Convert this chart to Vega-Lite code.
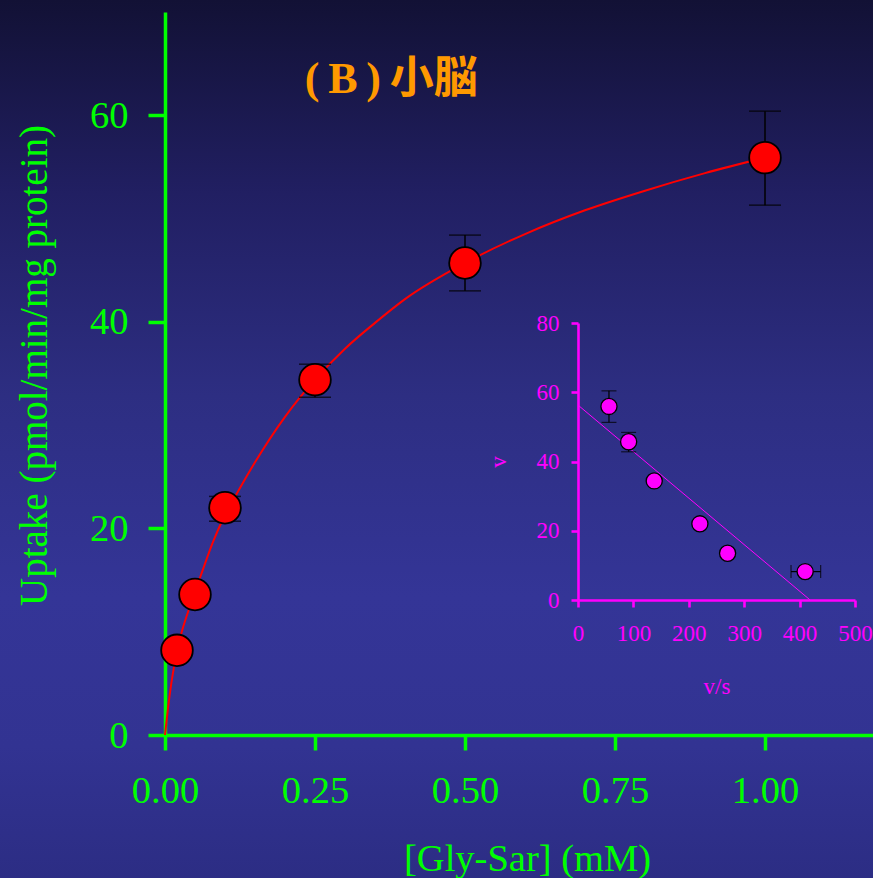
{
  "$schema": "https://vega.github.io/schema/vega-lite/v6.json",
  "width": 873,
  "height": 878,
  "padding": 0,
  "autosize": {"type": "none"},
  "background": "#2a2a7a",
  "config": {
    "view": {
      "stroke": null,
      "fill": {
        "gradient": "linear",
        "x1": 0, "y1": 0, "x2": 0, "y2": 1,
        "stops": [
          {"offset": 0, "color": "#121135"},
          {"offset": 0.22, "color": "#211f62"},
          {"offset": 0.45, "color": "#2d2e82"},
          {"offset": 0.68, "color": "#343597"},
          {"offset": 0.85, "color": "#323392"},
          {"offset": 1, "color": "#2c2d84"}
        ]
      }
    }
  },
  "datasets": {
    "curve": [
      {"s": 0, "v": 0}, {"s": 0.005, "v": 2.6}, {"s": 0.01, "v": 4.8}, {"s": 0.015, "v": 6.6},
      {"s": 0.02, "v": 8.2}, {"s": 0.03, "v": 10.4}, {"s": 0.04, "v": 12.2}, {"s": 0.05, "v": 13.9},
      {"s": 0.06, "v": 15.5}, {"s": 0.08, "v": 18.7}, {"s": 0.1, "v": 21.3}, {"s": 0.12, "v": 23.4},
      {"s": 0.15, "v": 26.4}, {"s": 0.2, "v": 30.8}, {"s": 0.25, "v": 34.4}, {"s": 0.3, "v": 37.4},
      {"s": 0.35, "v": 39.9}, {"s": 0.4, "v": 42.2}, {"s": 0.5, "v": 45.7}, {"s": 0.6, "v": 48.5},
      {"s": 0.7, "v": 50.8}, {"s": 0.8, "v": 52.7}, {"s": 0.9, "v": 54.4}, {"s": 1.0, "v": 55.9}
    ],
    "points": [
      {"s": 0.02, "v": 8.2}, {"s": 0.05, "v": 13.6}, {"s": 0.1, "v": 22.0},
      {"s": 0.25, "v": 34.4}, {"s": 0.5, "v": 45.7}, {"s": 1.0, "v": 55.9}
    ],
    "errors": [
      {"s": 0.1, "lo": 20.7, "hi": 23.1}, {"s": 0.25, "lo": 32.7, "hi": 35.9},
      {"s": 0.5, "lo": 43.0, "hi": 48.4}, {"s": 1.0, "lo": 51.3, "hi": 60.4}
    ],
    "scatchard": [
      {"vs": 55.9, "v": 55.9}, {"vs": 91.4, "v": 45.7}, {"vs": 137.6, "v": 34.4},
      {"vs": 220, "v": 22.0}, {"vs": 270, "v": 13.5}, {"vs": 410, "v": 8.2}
    ],
    "fit": [{"vs": 0, "v": 56.3}, {"vs": 419, "v": 0}],
    "verr": [{"vs": 55.9, "lo": 51.3, "hi": 60.4}, {"vs": 91.4, "lo": 42.8, "hi": 48.4}],
    "herr": [{"v": 8.2, "lo": 384.5, "hi": 438}]
  },
  "layer": [
    {
      "layer": [
        {
          "data": {"name": "curve"},
          "mark": {"type": "line", "color": "#ff0000", "strokeWidth": 2, "interpolate": "monotone"},
          "encoding": {
            "x": {"field": "s", "type": "quantitative",
              "scale": {"domain": [0, 1.18], "range": [165, 873], "nice": false, "zero": false},
              "axis": {
                "title": "[Gly-Sar] (mM)", "orient": "bottom", "offset": -143,
                "values": [0, 0.25, 0.5, 0.75, 1], "format": ".2f", "grid": false,
                "domainColor": "#00ff00", "domainWidth": 3.5,
                "tickColor": "#00ff00", "tickWidth": 3.5, "tickSize": 15,
                "labelColor": "#00ff00", "labelFont": "Liberation Serif", "labelFontSize": 38.5,
                "labelPadding": 22, "labelFlush": false, "labelOverlap": false,
                "titleColor": "#00ff00", "titleFont": "Liberation Serif", "titleFontSize": 38.5,
                "titleFontWeight": "normal", "titlePadding": 31, "titleX": 527
              }
            },
            "y": {"field": "v", "type": "quantitative",
              "scale": {"domain": [0, 70], "range": [735, 12], "nice": false, "zero": false},
              "axis": {
                "title": "Uptake (pmol/min/mg protein)", "orient": "left", "offset": -165,
                "values": [0, 20, 40, 60], "grid": false,
                "domainColor": "#00ff00", "domainWidth": 3.5,
                "tickColor": "#00ff00", "tickWidth": 3.5, "tickSize": 17,
                "labelColor": "#00ff00", "labelFont": "Liberation Serif", "labelFontSize": 38.5,
                "labelPadding": 20, "labelFlush": false, "labelOverlap": false,
                "titleColor": "#00ff00", "titleFont": "Liberation Serif", "titleFontSize": 39,
                "titleFontWeight": "normal", "titlePadding": 35, "titleY": 365
              }
            }
          }
        },
        {
          "data": {"name": "errors"},
          "mark": {"type": "rule", "color": "#000000", "strokeWidth": 1.5},
          "encoding": {
            "x": {"field": "s", "type": "quantitative", "scale": {"domain": [0, 1.18], "range": [165, 873], "nice": false, "zero": false}},
            "y": {"field": "lo", "type": "quantitative", "scale": {"domain": [0, 70], "range": [735, 12], "nice": false, "zero": false}},
            "y2": {"field": "hi"}
          }
        },
        {
          "data": {"name": "errors"},
          "mark": {"type": "tick", "orient": "horizontal", "color": "#000000", "size": 32, "thickness": 1.5},
          "encoding": {
            "x": {"field": "s", "type": "quantitative", "scale": {"domain": [0, 1.18], "range": [165, 873], "nice": false, "zero": false}},
            "y": {"field": "lo", "type": "quantitative", "scale": {"domain": [0, 70], "range": [735, 12], "nice": false, "zero": false}}
          }
        },
        {
          "data": {"name": "errors"},
          "mark": {"type": "tick", "orient": "horizontal", "color": "#000000", "size": 32, "thickness": 1.5},
          "encoding": {
            "x": {"field": "s", "type": "quantitative", "scale": {"domain": [0, 1.18], "range": [165, 873], "nice": false, "zero": false}},
            "y": {"field": "hi", "type": "quantitative", "scale": {"domain": [0, 70], "range": [735, 12], "nice": false, "zero": false}}
          }
        },
        {
          "data": {"name": "points"},
          "mark": {"type": "point", "shape": "circle", "filled": true, "fill": "#ff0000", "stroke": "#000000", "strokeWidth": 1.8, "opacity": 1, "size": 1000},
          "encoding": {
            "x": {"field": "s", "type": "quantitative", "scale": {"domain": [0, 1.18], "range": [165, 873], "nice": false, "zero": false}},
            "y": {"field": "v", "type": "quantitative", "scale": {"domain": [0, 70], "range": [735, 12], "nice": false, "zero": false}}
          }
        },
        {
          "data": {"values": [{"label": "(\u2009B\u2009)\u2009小脳"}]},
          "mark": {"type": "text", "color": "#ff9900", "font": "Liberation Serif, Noto Sans CJK JP", "fontSize": 44, "fontWeight": "bold", "align": "center", "baseline": "middle"},
          "encoding": {
            "text": {"field": "label"},
            "x": {"datum": 0.377, "type": "quantitative", "scale": {"domain": [0, 1.18], "range": [165, 873], "nice": false, "zero": false}},
            "y": {"datum": 63.4, "type": "quantitative", "scale": {"domain": [0, 70], "range": [735, 12], "nice": false, "zero": false}}
          }
        }
      ]
    },
    {
      "layer": [
        {
          "data": {"name": "fit"},
          "mark": {"type": "line", "color": "#ff00ff", "strokeWidth": 1},
          "encoding": {
            "x": {"field": "vs", "type": "quantitative",
              "scale": {"domain": [0, 500], "range": [578, 855], "nice": false, "zero": false},
              "axis": {
                "title": "v/s", "orient": "bottom", "offset": -278,
                "values": [0, 100, 200, 300, 400, 500], "grid": false,
                "domainColor": "#ff00ff", "domainWidth": 2.6,
                "tickColor": "#ff00ff", "tickWidth": 2.6, "tickSize": 7,
                "labelColor": "#ff00ff", "labelFont": "Liberation Serif", "labelFontSize": 23,
                "labelPadding": 15, "labelFlush": false, "labelOverlap": false,
                "titleColor": "#ff00ff", "titleFont": "Liberation Serif", "titleFontSize": 23,
                "titleFontWeight": "normal", "titlePadding": 30
              }
            },
            "y": {"field": "v", "type": "quantitative",
              "scale": {"domain": [0, 80], "range": [600, 323], "nice": false, "zero": false},
              "axis": {
                "title": "v", "orient": "left", "offset": -578,
                "values": [0, 20, 40, 60, 80], "grid": false,
                "domainColor": "#ff00ff", "domainWidth": 2.6,
                "tickColor": "#ff00ff", "tickWidth": 2.6, "tickSize": 7,
                "labelColor": "#ff00ff", "labelFont": "Liberation Serif", "labelFontSize": 23,
                "labelPadding": 12, "labelFlush": false, "labelOverlap": false,
                "titleColor": "#ff00ff", "titleFont": "Liberation Serif", "titleFontSize": 23,
                "titleFontWeight": "normal", "titlePadding": 26
              }
            }
          }
        },
        {
          "data": {"name": "verr"},
          "mark": {"type": "rule", "color": "#000000", "strokeWidth": 1.2},
          "encoding": {
            "x": {"field": "vs", "type": "quantitative", "scale": {"domain": [0, 500], "range": [578, 855], "nice": false, "zero": false}},
            "y": {"field": "lo", "type": "quantitative", "scale": {"domain": [0, 80], "range": [600, 323], "nice": false, "zero": false}},
            "y2": {"field": "hi"}
          }
        },
        {
          "data": {"name": "verr"},
          "mark": {"type": "tick", "orient": "horizontal", "color": "#000000", "size": 15, "thickness": 1.2},
          "encoding": {
            "x": {"field": "vs", "type": "quantitative", "scale": {"domain": [0, 500], "range": [578, 855], "nice": false, "zero": false}},
            "y": {"field": "lo", "type": "quantitative", "scale": {"domain": [0, 80], "range": [600, 323], "nice": false, "zero": false}}
          }
        },
        {
          "data": {"name": "verr"},
          "mark": {"type": "tick", "orient": "horizontal", "color": "#000000", "size": 15, "thickness": 1.2},
          "encoding": {
            "x": {"field": "vs", "type": "quantitative", "scale": {"domain": [0, 500], "range": [578, 855], "nice": false, "zero": false}},
            "y": {"field": "hi", "type": "quantitative", "scale": {"domain": [0, 80], "range": [600, 323], "nice": false, "zero": false}}
          }
        },
        {
          "data": {"name": "herr"},
          "mark": {"type": "rule", "color": "#000000", "strokeWidth": 1.2},
          "encoding": {
            "x": {"field": "lo", "type": "quantitative", "scale": {"domain": [0, 500], "range": [578, 855], "nice": false, "zero": false}},
            "x2": {"field": "hi"},
            "y": {"field": "v", "type": "quantitative", "scale": {"domain": [0, 80], "range": [600, 323], "nice": false, "zero": false}}
          }
        },
        {
          "data": {"name": "herr"},
          "mark": {"type": "tick", "orient": "vertical", "color": "#000000", "size": 13, "thickness": 1.2},
          "encoding": {
            "x": {"field": "lo", "type": "quantitative", "scale": {"domain": [0, 500], "range": [578, 855], "nice": false, "zero": false}},
            "y": {"field": "v", "type": "quantitative", "scale": {"domain": [0, 80], "range": [600, 323], "nice": false, "zero": false}}
          }
        },
        {
          "data": {"name": "herr"},
          "mark": {"type": "tick", "orient": "vertical", "color": "#000000", "size": 13, "thickness": 1.2},
          "encoding": {
            "x": {"field": "hi", "type": "quantitative", "scale": {"domain": [0, 500], "range": [578, 855], "nice": false, "zero": false}},
            "y": {"field": "v", "type": "quantitative", "scale": {"domain": [0, 80], "range": [600, 323], "nice": false, "zero": false}}
          }
        },
        {
          "data": {"name": "scatchard"},
          "mark": {"type": "point", "shape": "circle", "filled": true, "fill": "#ff00ff", "stroke": "#000000", "strokeWidth": 1.3, "opacity": 1, "size": 260},
          "encoding": {
            "x": {"field": "vs", "type": "quantitative", "scale": {"domain": [0, 500], "range": [578, 855], "nice": false, "zero": false}},
            "y": {"field": "v", "type": "quantitative", "scale": {"domain": [0, 80], "range": [600, 323], "nice": false, "zero": false}}
          }
        }
      ]
    }
  ],
  "resolve": {"scale": {"x": "independent", "y": "independent"}, "axis": {"x": "independent", "y": "independent"}}
}
